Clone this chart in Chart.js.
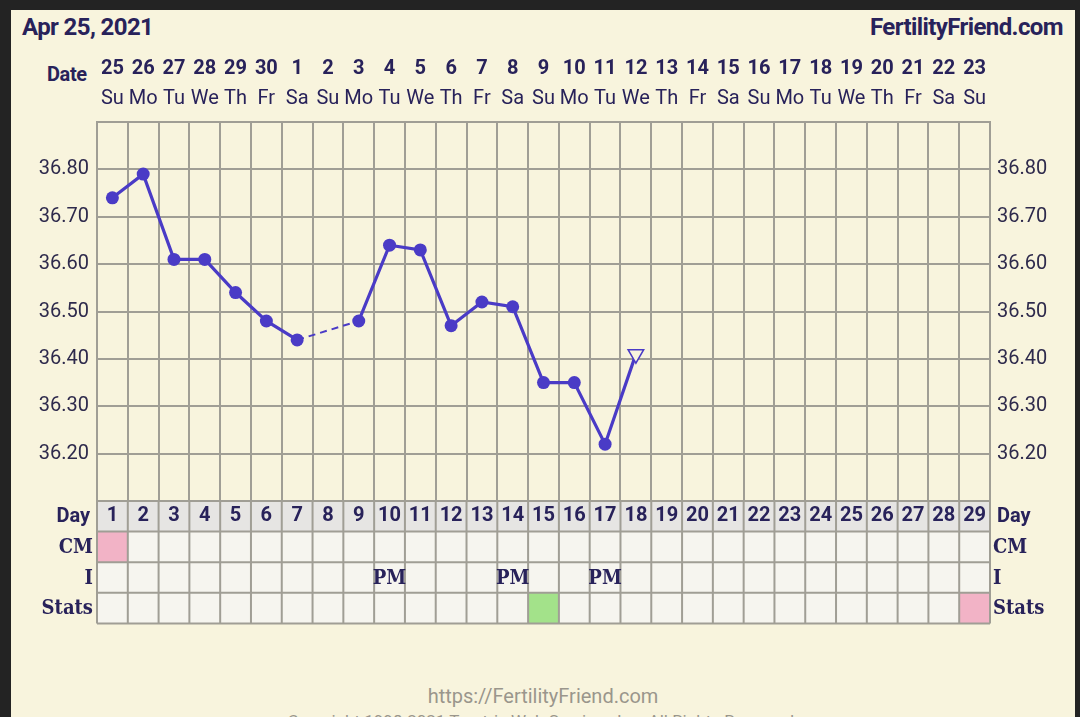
<!DOCTYPE html>
<html>
<head>
<meta charset="utf-8">
<script src="https://cdn.jsdelivr.net/npm/chart.js@4.4.0/dist/chart.umd.min.js"></script>
<style>
    html, body { margin: 0; padding: 0; }
    body { width: 1080px; height: 717px; background: #232323; overflow: hidden; position: relative; font-family: Roboto, sans-serif; }
    #panel { position: absolute; left: 11px; top: 10px; width: 1064px; height: 707px; background: #f8f4dd; overflow: hidden; }
    #chart { position: absolute; left: 0; top: 0; z-index: 1; }
    .head { position: absolute; font-weight: 700; color: #28225a; font-size: 24px; line-height: 28px; letter-spacing: -0.6px; white-space: nowrap; }
    .foot { position: absolute; left: 0; width: 100%; text-align: center; color: #9a968c; white-space: nowrap; }
</style>
</head>
<body>
<div id="panel">
    <div class="head" style="left:11px; top:3px;">Apr 25, 2021</div>
    <div class="head" style="right:12px; top:3px;">FertilityFriend.com</div>
    <div class="head" style="left:36px; top:50px; font-size:20px; letter-spacing:-0.4px;">Date</div>
    <div class="foot" style="top:674px; font-size:20px; line-height:24px;">https://FertilityFriend.com</div>
    <div class="foot" style="top:700px; font-size:17px; line-height:22px;">Copyright 1998-2021 Tamtris Web Services Inc. All Rights Reserved.</div>
</div>
<canvas id="chart" width="1080" height="717"></canvas>
<script>
// chart data
const cycleDays = ['1', '2', '3', '4', '5', '6', '7', '8', '9', '10', '11', '12', '13', '14', '15',
    '16', '17', '18', '19', '20', '21', '22', '23', '24', '25', '26', '27', '28', '29'];
const dateLabels = ['25', '26', '27', '28', '29', '30', '1', '2', '3', '4', '5', '6', '7', '8', '9',
    '10', '11', '12', '13', '14', '15', '16', '17', '18', '19', '20', '21', '22', '23'];
const weekdayLabels = ['Su', 'Mo', 'Tu', 'We', 'Th', 'Fr', 'Sa', 'Su', 'Mo', 'Tu', 'We', 'Th', 'Fr', 'Sa', 'Su',
    'Mo', 'Tu', 'We', 'Th', 'Fr', 'Sa', 'Su', 'Mo', 'Tu', 'We', 'Th', 'Fr', 'Sa', 'Su'];
const temps = [36.74, 36.79, 36.61, 36.61, 36.54, 36.48, 36.44, null, 36.48, 36.64,
    36.63, 36.47, 36.52, 36.51, 36.35, 36.35, 36.22, 36.41];
const tempTicks = ['36.20', '36.30', '36.40', '36.50', '36.60', '36.70', '36.80'];
const openMarkerDay = 18;
const cmDays = [1];
const intercourseDays = [10, 14, 17];
const intercourseNotes = ['PM', 'PM', 'PM'];
const statsDays = [15, 29];
const statsKinds = ['ovulation', 'period'];

const ink = '#28225a';
const lineColor = '#4a3bc6';
const gridColor = '#a09e95';
const cream = '#f8f4dd';
const kindColors = { period: '#f2b3c6', ovulation: '#a3e28a' };

Chart.defaults.font.family = 'Roboto';

const rowH = 30.6;
const serifFont = 'bold 20px "DejaVu Serif Condensed", "DejaVu Serif", serif';

const cycleTable = {
    id: 'cycleTable',
    beforeDraw(chart) {
        const { ctx, chartArea, scales: { x } } = chart;
        const colW = x.width / cycleDays.length;
        const top = chartArea.bottom;
        ctx.save();
        cycleDays.forEach((d, i) => {
            const left = x.getPixelForValue(i) - colW / 2;
            ctx.fillStyle = '#e6e5e3';
            ctx.fillRect(left, top, colW, rowH);
            for (let r = 1; r < 4; r++) {
                ctx.fillStyle = '#f6f5ef';
                if (r === 1 && cmDays.includes(i + 1)) ctx.fillStyle = kindColors.period;
                if (r === 3 && statsDays.includes(i + 1)) ctx.fillStyle = kindColors[statsKinds[statsDays.indexOf(i + 1)]];
                ctx.fillRect(left, top + r * rowH, colW, rowH);
            }
        });
        ctx.strokeStyle = gridColor;
        ctx.lineWidth = 2;
        ctx.beginPath();
        for (let i = 0; i <= cycleDays.length; i++) {
            const px = chartArea.left + i * colW;
            ctx.moveTo(px, top);
            ctx.lineTo(px, top + 4 * rowH);
        }
        for (let r = 0; r <= 4; r++) {
            ctx.moveTo(chartArea.left, top + r * rowH);
            ctx.lineTo(chartArea.right, top + r * rowH);
        }
        ctx.stroke();
        ctx.restore();
    },
    afterDraw(chart) {
        const { ctx, chartArea, scales: { x } } = chart;
        const top = chartArea.bottom;
        ctx.save();
        ctx.fillStyle = ink;
        ctx.textBaseline = 'middle';
        const rows = ['Day', 'CM', 'I', 'Stats'];
        rows.forEach((label, r) => {
            const cy = top + r * rowH + rowH / 2 + 1;
            ctx.font = r === 0 ? 'bold 20px Roboto' : serifFont;
            ctx.textAlign = 'right';
            ctx.fillText(label, chartArea.left - (r === 0 ? 7 : 4), cy);
            ctx.textAlign = 'left';
            ctx.fillText(label, chartArea.right + (r === 0 ? 7 : 3), cy);
        });
        ctx.font = serifFont;
        ctx.textAlign = 'center';
        intercourseDays.forEach((d, i) => {
            ctx.fillText(intercourseNotes[i], x.getPixelForValue(d - 1), top + 2 * rowH + rowH / 2 + 1);
        });
        ctx.restore();
    }
};

const isGap = (ctx, value) => (ctx.p0.skip || ctx.p1.skip ? value : undefined);
const isOpen = (ctx) => ctx.dataIndex === openMarkerDay - 1;
const tickLabel = (v) => (tempTicks.includes(v.toFixed(2)) ? v.toFixed(2) : '');

new Chart(document.getElementById('chart'), {
    type: 'line',
    data: {
        labels: cycleDays,
        datasets: [{
            data: temps,
            borderColor: lineColor,
            borderWidth: 3.2,
            spanGaps: true,
            segment: {
                borderDash: (ctx) => isGap(ctx, [7, 5]),
                borderWidth: (ctx) => isGap(ctx, 2),
            },
            pointStyle: (ctx) => (isOpen(ctx) ? 'triangle' : 'circle'),
            pointRotation: (ctx) => (isOpen(ctx) ? 180 : 0),
            pointRadius: (ctx) => (isOpen(ctx) ? 9 : 6.5),
            pointBorderWidth: (ctx) => (isOpen(ctx) ? 1.5 : 0),
            pointBackgroundColor: (ctx) => (isOpen(ctx) ? cream : lineColor),
            pointBorderColor: lineColor,
        }],
    },
    options: {
        responsive: false,
        animation: false,
        layout: { padding: { top: 52, bottom: 185, left: 0, right: 0 } },
        plugins: { legend: { display: false }, tooltip: { enabled: false } },
        scales: {
            x: {
                type: 'category',
                labels: cycleDays,
                position: 'bottom',
                offset: true,
                grid: { offset: true, color: gridColor, lineWidth: 2, drawTicks: false },
                border: { color: gridColor, width: 2 },
                ticks: { autoSkip: false, maxRotation: 0, padding: 3, color: ink, font: { size: 20, weight: 'bold' } },
                afterFit: (s) => { s.height = 31; },
            },
            xDate: {
                type: 'category',
                labels: dateLabels,
                position: 'top',
                offset: true,
                weight: 2,
                grid: { display: false, drawTicks: false },
                border: { display: false },
                ticks: { autoSkip: false, maxRotation: 0, padding: 1, color: ink, font: { size: 20, weight: 'bold' } },
                afterFit: (s) => { s.height = 30; },
            },
            xWeek: {
                type: 'category',
                labels: weekdayLabels,
                position: 'top',
                offset: true,
                weight: 1,
                grid: { display: false, drawTicks: false },
                border: { display: false },
                ticks: { autoSkip: false, maxRotation: 0, padding: 11, color: ink, font: { size: 20 } },
                afterFit: (s) => { s.height = 40; },
            },
            y: {
                type: 'linear',
                position: 'left',
                min: 36.1,
                max: 36.9,
                grid: { color: gridColor, lineWidth: 2, drawTicks: false },
                border: { color: gridColor, width: 2 },
                ticks: { stepSize: 0.05, padding: 8, color: '#2e2a4c', font: { size: 20 }, callback: tickLabel },
                afterFit: (s) => { s.width = 97; },
            },
            y2: {
                type: 'linear',
                position: 'right',
                min: 36.1,
                max: 36.9,
                grid: { drawOnChartArea: false, drawTicks: false },
                border: { color: gridColor, width: 2 },
                ticks: { stepSize: 0.05, padding: 7, color: '#2e2a4c', font: { size: 20 }, callback: tickLabel },
                afterFit: (s) => { s.width = 90; },
            },
        },
    },
    plugins: [cycleTable],
});
</script>
</body>
</html>
